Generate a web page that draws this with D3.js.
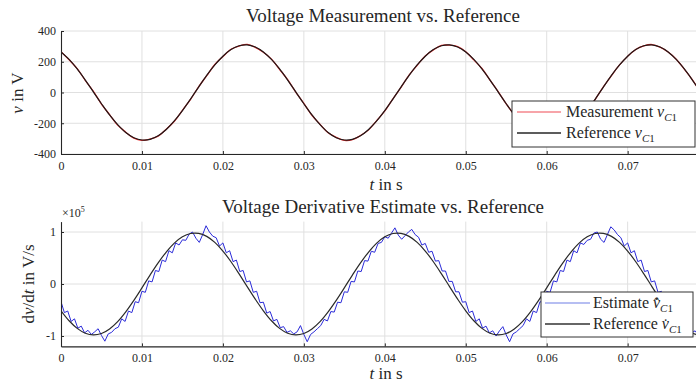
<!DOCTYPE html>
<html><head><meta charset="utf-8">
<script src="https://cdn.jsdelivr.net/npm/d3@7"></script>
<style>
body{margin:0;background:#fff}
svg{display:block}
text{font-family:"Liberation Serif","Times New Roman",serif;fill:#262626}
</style>
</head><body>
<svg id="chart" width="696" height="387"></svg>
<script>
// ---------------- DATA ----------------
const refStep = 0.001;          // s, sampling of reference / measurement arrays
const estStep = 1 / 2400;       // s, sampling of estimate array
const xTickValues = [0, 0.01, 0.02, 0.03, 0.04, 0.05, 0.06, 0.07];
const xTickLabels = ["0", "0.01", "0.02", "0.03", "0.04", "0.05", "0.06", "0.07"];
const vTickValues = [-400, -200, 0, 200, 400];
const vTickLabels = ["-400", "-200", "0", "200", "400"];
const dTickValues = [-1, 0, 1];
const dTickLabels = ["-1", "0", "1"];

// Voltage reference v_C1 in V (t = 0 .. 0.08 s, every 1 ms)
const voltageReference = [
  264, 215, 153, 81, 4, -73, -146, -209, -260, -294, -309, -305, -282, -241, -185, -118, -43, 35, 111, 179, 236, 279, 304, 310, 296,
  264, 215, 153, 81, 4, -73, -146, -209, -260, -294, -309, -305, -282, -241, -185, -118, -43, 35, 111, 179, 236, 279, 304, 310, 296,
  264, 215, 153, 81, 4, -73, -146, -209, -260, -294, -309, -305, -282, -241, -185, -118, -43, 35, 111, 179, 236, 279, 304, 310, 296,
  264, 215, 153, 81, 4, -73
];
// Voltage measurement v_C1 in V (every 1 ms)
const voltageMeasurement = [
  266, 213, 155, 79, 7, -75, -144, -212, -258, -297, -311, -303, -284, -239, -187, -116, -45, 37, 109, 182, 234, 281, 302, 313, 294,
  262, 217, 151, 83, 2, -71, -148, -207, -262, -292, -312, -307, -280, -243, -183, -120, -41, 33, 113, 177, 238, 277, 306, 308, 298,
  265, 212, 156, 80, 6, -74, -145, -210, -259, -296, -310, -302, -285, -240, -186, -117, -44, 36, 110, 180, 235, 280, 303, 312, 295,
  263, 216, 152, 82, 3, -72
];
// Derivative reference in 1e5 V/s (every 1 ms)
const derivativeReference = [
  -0.515, -0.707, -0.853, -0.946, -0.980, -0.952, -0.864, -0.723, -0.535, -0.314, -0.074, 0.172, 0.406, 0.615, 0.786, 0.907, 0.971, 0.974, 0.916, 0.800, 0.634, 0.428, 0.195, -0.050, -0.291,
  -0.515, -0.707, -0.853, -0.946, -0.980, -0.952, -0.864, -0.723, -0.535, -0.314, -0.074, 0.172, 0.406, 0.615, 0.786, 0.907, 0.971, 0.974, 0.916, 0.800, 0.634, 0.428, 0.195, -0.050, -0.291,
  -0.515, -0.707, -0.853, -0.946, -0.980, -0.952, -0.864, -0.723, -0.535, -0.314, -0.074, 0.172, 0.406, 0.615, 0.786, 0.907, 0.971, 0.974, 0.916, 0.800, 0.634, 0.428, 0.195, -0.050, -0.291,
  -0.515, -0.707, -0.853, -0.946, -0.980, -0.952
];
// Derivative estimate in 1e5 V/s (every 1/2400 s)
const derivativeEstimate = [
  -0.34, -0.55, -0.52, -0.72, -0.67, -0.85, -0.81, -0.94, -0.89, -0.97,
  -0.92, -0.86, -0.99, -1.10, -0.96, -0.93, -0.86, -0.83, -0.67, -0.72,
  -0.52, -0.55, -0.34, -0.36, -0.14, -0.16, 0.06, 0.04, 0.26, 0.24,
  0.46, 0.43, 0.64, 0.60, 0.79, 0.75, 0.85, 0.84, 0.96, 1.00,
  0.88, 0.80, 0.95, 1.12, 1.00, 0.92, 0.89, 0.73, 0.79, 0.60,
  0.64, 0.43, 0.46, 0.24, 0.26, 0.04, 0.06, -0.16, -0.14, -0.36,
  -0.35, -0.56, -0.53, -0.71, -0.68, -0.84, -0.82, -0.93, -0.90, -0.96,
  -0.92, -0.80, -0.97, -1.11, -0.97, -0.92, -0.86, -0.80, -0.68, -0.71,
  -0.53, -0.54, -0.35, -0.36, -0.15, -0.16, 0.05, 0.04, 0.25, 0.24,
  0.45, 0.44, 0.63, 0.61, 0.78, 0.80, 0.91, 0.88, 0.98, 1.08,
  0.94, 0.86, 0.93, 1.00, 1.05, 0.95, 0.90, 0.75, 0.78, 0.61,
  0.63, 0.44, 0.45, 0.25, 0.25, 0.05, 0.05, -0.15, -0.15, -0.35,
  -0.34, -0.55, -0.52, -0.72, -0.67, -0.85, -0.81, -0.94, -0.90, -1.00,
  -0.90, -0.82, -0.98, -1.11, -0.96, -0.92, -0.86, -0.80, -0.67, -0.72,
  -0.52, -0.55, -0.34, -0.36, -0.14, -0.16, 0.06, 0.04, 0.26, 0.24,
  0.46, 0.43, 0.64, 0.60, 0.79, 0.76, 0.84, 0.86, 0.98, 1.00,
  0.86, 0.80, 0.95, 1.10, 1.04, 0.95, 0.89, 0.73, 0.79, 0.60,
  0.64, 0.43, 0.46, 0.24, 0.26, 0.04, 0.06, -0.16, -0.14, -0.36,
  -0.35, -0.55, -0.53, -0.71, -0.68, -0.84, -0.82, -0.94, -0.90, -0.99,
  -0.93, -0.99, -0.95
];

// ---------------- CHART ----------------
const svg = d3.select("#chart");
const serif = '"Liberation Serif","Times New Roman",serif';
const axisColor = "#262626", gridColor = "#e0e0e0";
const x = d3.scaleLinear().domain([0, 0.08]).range([61, 708.6]);
const yV = d3.scaleLinear().domain([-400, 400]).range([154, 31]);
const yD = d3.scaleLinear().domain([-1.2, 1.2]).range([346.4, 221.6]);

const defs = svg.append("defs");
function clip(id, ys) {
  defs.append("clipPath").attr("id", id).append("rect")
    .attr("x", x.range()[0]).attr("y", ys.range()[1] - 2)
    .attr("width", x.range()[1] - x.range()[0]).attr("height", ys.range()[0] - ys.range()[1] + 4);
}
clip("clipV", yV); clip("clipD", yD);

function panel(ys, yTicks, yLabels, series, clipId) {
  const g = svg.append("g");
  g.append("g").selectAll("line").data(xTickValues.filter(d => d > 0)).join("line")
    .attr("x1", d => x(d)).attr("x2", d => x(d))
    .attr("y1", ys.range()[0]).attr("y2", ys.range()[1])
    .attr("stroke", gridColor).attr("stroke-width", 1);
  g.append("g").selectAll("line").data(yTicks).join("line")
    .attr("x1", x.range()[0]).attr("x2", x.range()[1])
    .attr("y1", d => ys(d)).attr("y2", d => ys(d))
    .attr("stroke", gridColor).attr("stroke-width", 1);
  const sg = g.append("g").attr("clip-path", `url(#${clipId})`);
  series.forEach(s => {
    const line = d3.line().x((d, i) => x(i * s.step)).y(d => ys(d)).curve(s.curve);
    sg.append("path").datum(s.values).attr("d", line)
      .attr("fill", "none").attr("stroke", s.color).attr("stroke-width", s.width)
      .attr("stroke-linejoin", "round");
  });
  const xa = d3.axisBottom(x).tickValues(xTickValues).tickFormat((d, i) => xTickLabels[i])
    .tickSize(-3).tickSizeOuter(0).tickPadding(7);
  const ga = g.append("g").attr("transform", `translate(0,${ys.range()[0]})`).call(xa);
  const ya = d3.axisLeft(ys).tickValues(yTicks).tickFormat((d, i) => yLabels[i])
    .tickSize(-3).tickSizeOuter(0).tickPadding(5);
  const gb = g.append("g").attr("transform", `translate(${x.range()[0]},0)`).call(ya);
  [ga, gb].forEach(a => {
    a.attr("font-family", serif).attr("font-size", 12);
    a.select(".domain").attr("stroke", axisColor).attr("stroke-width", 1.1);
    a.selectAll(".tick line").attr("stroke", axisColor);
    a.selectAll(".tick text").attr("fill", axisColor)
      .style("font-family", serif).style("font-size", "12px");
  });
  return g;
}

panel(yV, vTickValues, vTickLabels, [
  { values: voltageMeasurement, step: refStep, color: "#f02828", width: 1.3, curve: d3.curveCatmullRom },
  { values: voltageReference, step: refStep, color: "#1a1a1a", width: 1.2, curve: d3.curveCatmullRom }
], "clipV");

panel(yD, dTickValues, dTickLabels, [
  { values: derivativeEstimate, step: estStep, color: "#2b2bd8", width: 1, curve: d3.curveLinear },
  { values: derivativeReference, step: refStep, color: "#2a2a2a", width: 1.2, curve: d3.curveCatmullRom }
], "clipD");

// titles
svg.append("text").attr("x", 383).attr("y", 22).attr("text-anchor", "middle")
  .style("font-size", "19px").text("Voltage Measurement vs. Reference");
svg.append("text").attr("x", 383).attr("y", 213).attr("text-anchor", "middle")
  .style("font-size", "19px").text("Voltage Derivative Estimate vs. Reference");

// x labels
function xLabel(y) {
  const t = svg.append("text").attr("x", 386).attr("y", y).attr("text-anchor", "middle").style("font-size", "17px");
  t.append("tspan").style("font-style", "italic").text("t");
  t.append("tspan").text(" in s");
}
xLabel(190); xLabel(379);

// y labels
const yl1 = svg.append("text").attr("transform", "translate(23,93) rotate(-90)").attr("text-anchor", "middle").style("font-size", "17px");
yl1.append("tspan").style("font-style", "italic").text("v");
yl1.append("tspan").text(" in V");
const yl2 = svg.append("text").attr("transform", "translate(34,284) rotate(-90)").attr("text-anchor", "middle").style("font-size", "17px");
yl2.append("tspan").text("d");
yl2.append("tspan").style("font-style", "italic").text("v");
yl2.append("tspan").text("/d");
yl2.append("tspan").style("font-style", "italic").text("t");
yl2.append("tspan").text(" in V/s");

// exponent
const ex = svg.append("text").attr("x", 62).attr("y", 217).style("font-size", "12px");
ex.append("tspan").text("×10");
ex.append("tspan").attr("dy", -5).style("font-size", "8px").text("5");

// legends
function legend(x0, y0, w, h, items, lineX1, lineX2, textX) {
  const g = svg.append("g");
  g.append("rect").attr("x", x0).attr("y", y0).attr("width", w).attr("height", h)
    .attr("fill", "#fff").attr("stroke", "#333").attr("stroke-width", 1);
  items.forEach((it, i) => {
    const yy = y0 + 11 + i * 21;
    g.append("line").attr("x1", lineX1).attr("x2", lineX2).attr("y1", yy).attr("y2", yy)
      .attr("stroke", it.color).attr("stroke-width", it.width);
    const t = g.append("text").attr("x", textX).attr("y", yy + 5).style("font-size", "16px");
    t.append("tspan").text(it.label + " ");
    t.append("tspan").style("font-style", "italic").text(it.sym);
    t.append("tspan").attr("dy", 4).style("font-size", "11px").style("font-style", "italic").text("C");
    t.append("tspan").style("font-size", "11px").text("1");
  });
}
legend(512, 101, 183, 46, [
  { label: "Measurement", sym: "v", color: "#f04a55", width: 1.2 },
  { label: "Reference", sym: "v", color: "#262626", width: 1.5 }
], 517, 561, 566);
legend(541, 292, 152, 45, [
  { label: "Estimate", sym: "v\u0307\u0302", color: "#6f7fe6", width: 1.2 },
  { label: "Reference", sym: "v\u0307", color: "#333", width: 1.5 }
], 545, 590, 593);
</script>
</body></html>
